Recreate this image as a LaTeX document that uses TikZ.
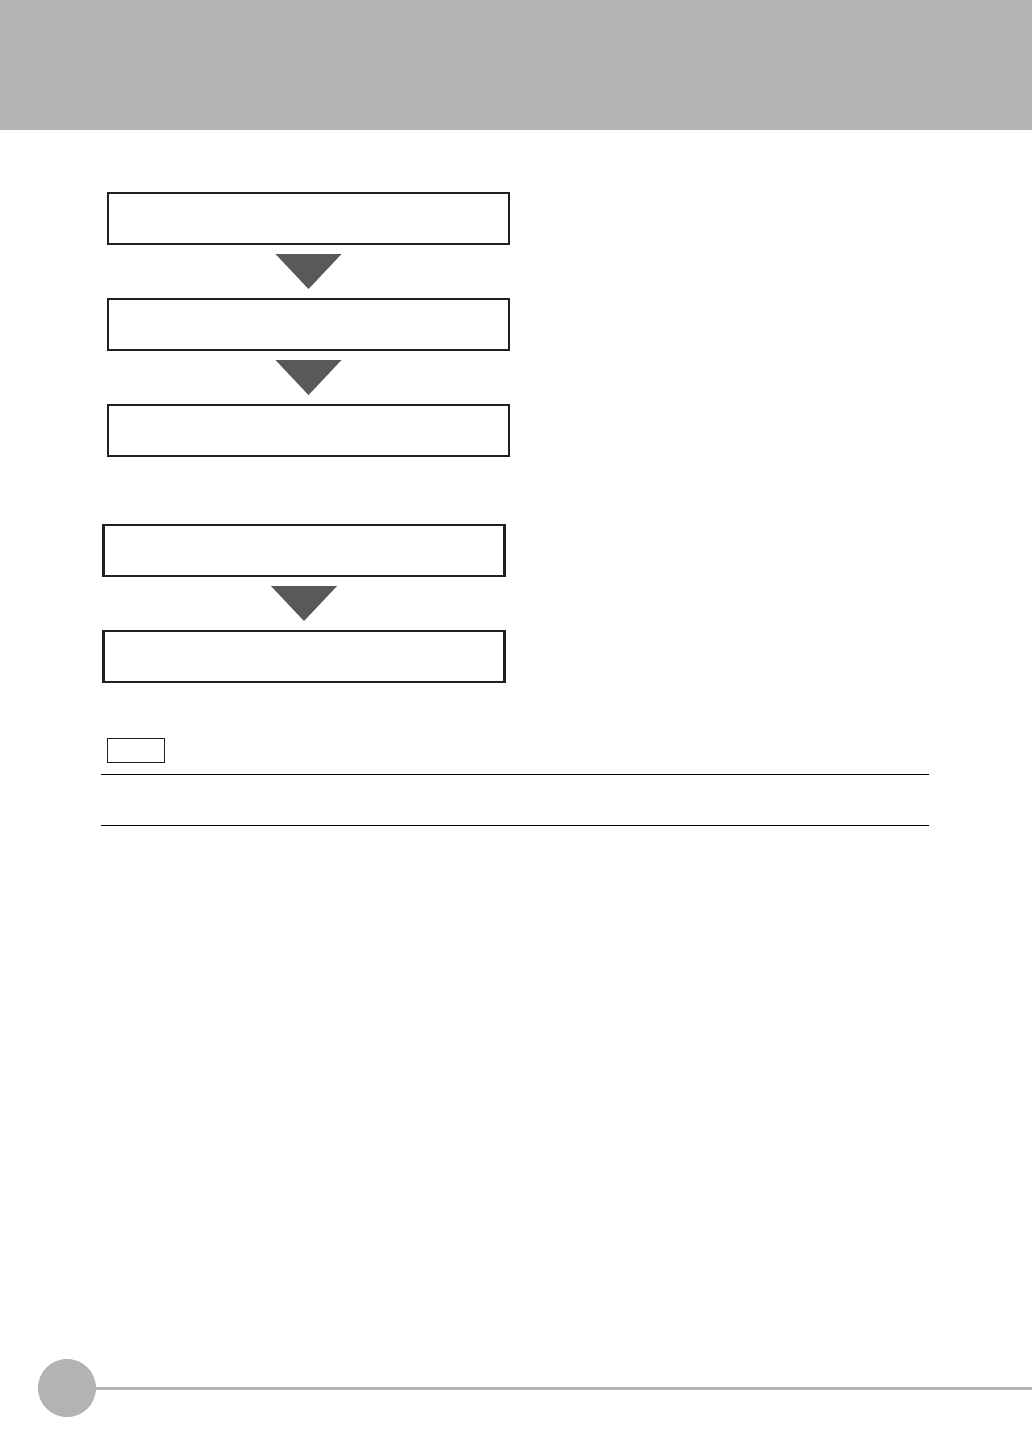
\documentclass[tikz,border=0pt]{standalone}
\usetikzlibrary{calc}
\definecolor{hdrgray}{HTML}{B3B3B3}
\definecolor{arrowgray}{HTML}{58595B}
\definecolor{boxline}{HTML}{231F20}
\begin{document}
\begin{tikzpicture}[x=1pt,y=-1pt,
  stepbox/.style={draw=boxline,line width=2.5pt,minimum width=401pt,minimum height=51pt,inner sep=0pt,outer sep=0pt},
  notebox/.style={draw=boxline,line width=1.3pt,minimum width=57pt,minimum height=24pt,inner sep=0pt},
  tri/.style={fill=arrowgray}]
\useasboundingbox (0,0) rectangle (1032,1456);
\fill[hdrgray] (0,0) rectangle (1032,130);
% first group
\node[stepbox] (b1) at (308.5,218.5) {};
\node[stepbox] (b2) at (308.5,324.5) {};
\node[stepbox] (b3) at (308.5,430.5) {};
% second group
\node[stepbox] (b4) at (304,550.5) {};
\node[stepbox] (b5) at (304,656.5) {};
% arrows
\fill[tri] ($(b1.south)+(-33,10)$) -- ($(b1.south)+(33,10)$) -- ($(b2.north)+(0,-10)$) -- cycle;
\fill[tri] ($(b2.south)+(-33,10)$) -- ($(b2.south)+(33,10)$) -- ($(b3.north)+(0,-10)$) -- cycle;
\fill[tri] ($(b4.south)+(-33,10)$) -- ($(b4.south)+(33,10)$) -- ($(b5.north)+(0,-10)$) -- cycle;
% note
\node[notebox] (note) at (136,750.5) {};
\coordinate (l1a) at (101,774.5);
\coordinate (l1b) at (929,774.5);
\coordinate (l2a) at (101,825.5);
\coordinate (l2b) at (929,825.5);
\draw[line width=1.4pt,black] (l1a) -- (l1b);
\draw[line width=1.4pt,black] (l2a) -- (l2b);
% footer
\node[circle,fill=hdrgray,minimum size=58pt,inner sep=0pt] (pg) at (67,1388) {};
\coordinate (fend) at (1032,1388);
\draw[hdrgray,line width=3pt] (pg.east) -- (fend);
\end{tikzpicture}
\end{document}
